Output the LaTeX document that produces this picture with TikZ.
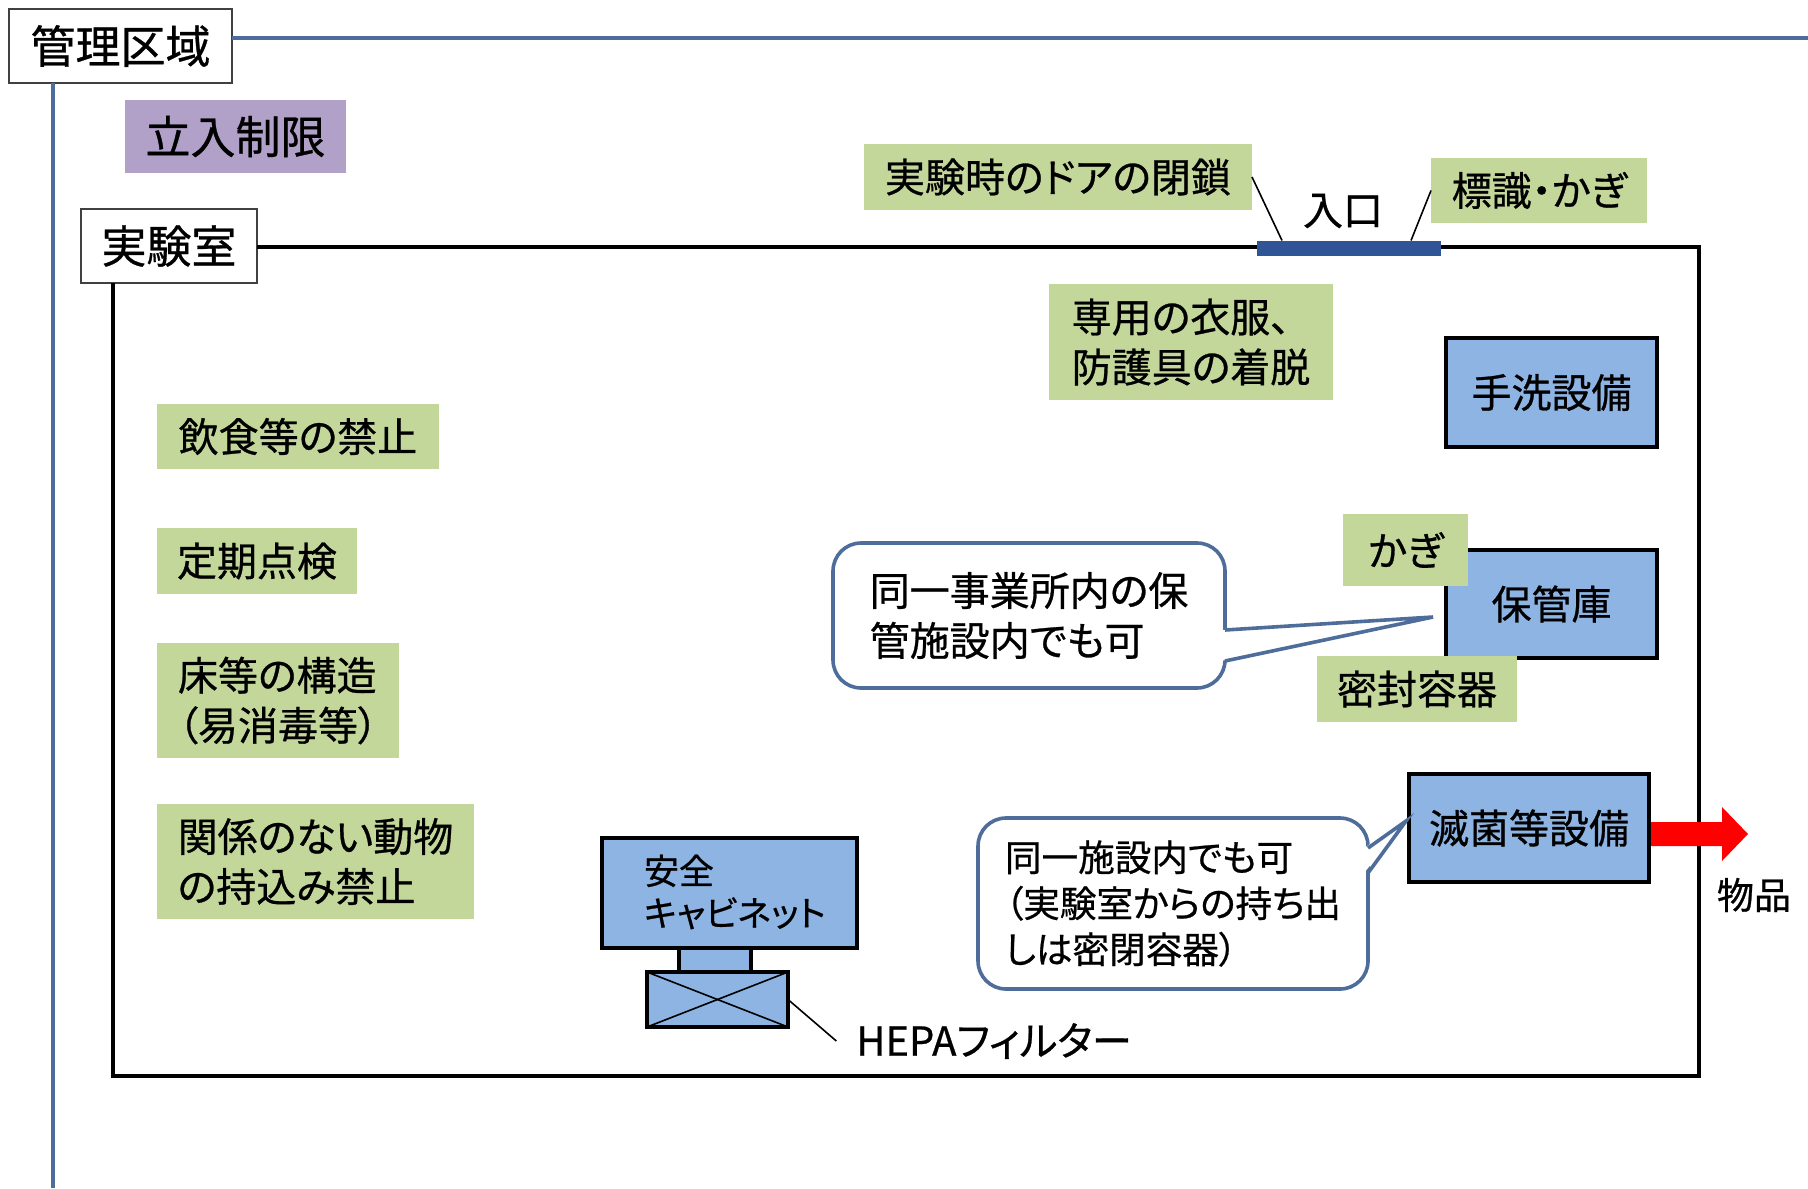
\documentclass[tikz,border=0pt]{standalone}
\usepackage{fontspec}
\setmainfont[RawFeature={+palt;embolden=0.7}]{Noto Sans CJK JP}
\usetikzlibrary{calc}
\definecolor{lgreen}{HTML}{C4D79B}
\definecolor{lpurple}{HTML}{B1A0C7}
\definecolor{cabblue}{HTML}{8DB4E2}
\definecolor{steel}{HTML}{4F6D9A}
\definecolor{doorblue}{HTML}{2F5597}
\definecolor{tagline}{HTML}{404040}
\begin{document}
\begin{tikzpicture}[x=0.5pt,y=-0.5pt,
  every node/.style={inner sep=0pt, outer sep=0pt},
  fA/.style={font=\fontsize{22.5pt}{27pt}\selectfont},
  fB/.style={font=\fontsize{20pt}{25pt}\selectfont},
  fC/.style={font=\fontsize{18.3pt}{23pt}\selectfont},
  tagbox/.style={draw=tagline, line width=1pt, fill=white, fA},
  notebox/.style={fill=lgreen, fB, align=left},
  equip/.style={fill=cabblue, draw=black, line width=2.2pt, fB},
  callbox/.style={draw=steel, line width=1.8pt, fill=white, rounded corners=14pt, align=left},
  callline/.style={draw=steel, line width=1.8pt, line join=miter},
  mline/.style={draw=steel, line width=2pt},
  labline/.style={draw=black, line width=2.3pt},
  thinline/.style={draw=black, line width=0.8pt}
]
\useasboundingbox (0,0) rectangle (1808,1188);

% management area
\node[tagbox, minimum width=111.5pt, minimum height=37pt] (kanri) at (120.5,46) {管理区域};
\coordinate (kR) at (1808,38);
\coordinate (kB) at (53,1188);
\draw[mline] (kanri.east |- kR) -- (kR);
\draw[mline] (kanri.south -| kB) -- (kB);
\node[fill=lpurple, fA, minimum width=110.5pt, minimum height=36.5pt] (tachiiri) at (235.5,136.5) {立入制限};

% laboratory
\node[tagbox, minimum width=88pt, minimum height=37pt] (jikken) at (169,246) {実験室};
\coordinate (labTR) at (1699,247);
\coordinate (labBR) at (1699,1076);
\coordinate (labBL) at (113,1076);
\draw[labline] (jikken.east |- labTR) -- (labTR) -- (labBR) -- (labBL) -- (jikken.south -| labBL);

% door
\node[fill=doorblue, minimum width=92pt, minimum height=7.5pt] (door) at (1349,248) {};
\node[fB] (iriguchi) at (1343,211) {入口};
\node[notebox, minimum width=194pt, minimum height=33pt] (tobira) at (1058,177) {実験時のドアの閉鎖};
\node[notebox, minimum width=108pt, minimum height=32.5pt] (hyoshiki) at (1539,190.5) {標識・かぎ};
\draw[thinline] (tobira.east) -- ($(door.north west)+(25,0)$);
\draw[thinline] (hyoshiki.west) -- ($(door.north east)+(-30,0)$);

\node[notebox, minimum width=142pt, minimum height=58pt] (senyo) at (1191,342) {専用の衣服、\\防護具の着脱};

% left notes
\node[notebox, minimum width=141pt, minimum height=32.5pt] (inshoku) at (298,436.5) {飲食等の禁止};
\node[notebox, minimum width=100pt, minimum height=33pt] (teiki) at (257,561) {定期点検};
\node[notebox, minimum width=121pt, minimum height=57.5pt] (yuka) at (278,700.5) {床等の構造\\（易消毒等）};
\node[notebox, minimum width=158.5pt, minimum height=57.5pt] (dobutsu) at (315.5,861.5) {関係のない動物\\の持込み禁止};

% equipment
\node[equip, minimum width=105.5pt, minimum height=54.5pt] (tearai) at (1551.5,392.5) {手洗設備};
\node[equip, minimum width=105.5pt, minimum height=54pt] (hokanko) at (1551.5,604) {保管庫};
\node[notebox, minimum width=62.5pt, minimum height=36pt] (kagi) at (1405.5,550) {かぎ};
\node[notebox, minimum width=100pt, minimum height=33pt] (mippu) at (1417,689) {密封容器};
\node[equip, minimum width=120pt, minimum height=54pt] (mekkin) at (1529,828) {滅菌等設備};

% callout 1
\node[callbox, fB, minimum width=196pt, minimum height=72.5pt] (co1) at (1029,615.5) {同一事業所内の保\\管施設内でも可};
\coordinate (tip1) at (1433,617);
\fill[white] ($(co1.east |- 0,630)+(-4,0)$) -- (tip1) -- ($(co1.east |- 0,661)+(-4,0)$) -- cycle;
\draw[callline] (co1.east |- 0,630) -- (tip1) -- (co1.east |- 0,661);

% callout 2
\node[callbox, fC, minimum width=195pt, minimum height=85.5pt] (co2) at (1173,903.5) {同一施設内でも可\\（実験室からの持ち出\\しは密閉容器）};
\coordinate (tip2) at (1406,821);
\fill[white] ($(co2.east |- 0,848)+(-4,0)$) -- (tip2) -- ($(co2.east |- 0,873)+(-4,0)$) -- cycle;
\draw[callline] (co2.east |- 0,848) -- (tip2) -- (co2.east |- 0,873);

% red arrow and goods
\fill[red] (1651,822) -- (1722,822) -- (1722,807) -- (1748,834) -- (1722,861) -- (1722,846) -- (1651,846) -- cycle;
\node[font=\fontsize{18.5pt}{22pt}\selectfont] (buppin) at (1754,895) {物品};

% safety cabinet
\node[fill=cabblue, draw=black, line width=2.2pt, minimum width=127.5pt, minimum height=55pt] (cab) at (729.5,893) {};
\node[font=\fontsize{17.5pt}{21pt}\selectfont, align=left, anchor=west] (cabtext) at (644,892) {安全\\キャビネット};
\node[fill=cabblue, draw=black, line width=2.2pt, minimum width=36pt, minimum height=12pt] (neck) at (715,960) {};
\node[fill=cabblue, draw=black, line width=2.2pt, minimum width=70.5pt, minimum height=27.5pt] (filter) at (717.5,999.5) {};
\draw[thinline] (filter.north west) -- (filter.south east);
\draw[thinline] (filter.south west) -- (filter.north east);
\node[fB, inner xsep=10pt] (hepa) at (994,1041) {HEPAフィルター};
\draw[thinline] (filter.east) -- (hepa.west);
\end{tikzpicture}
\end{document}
